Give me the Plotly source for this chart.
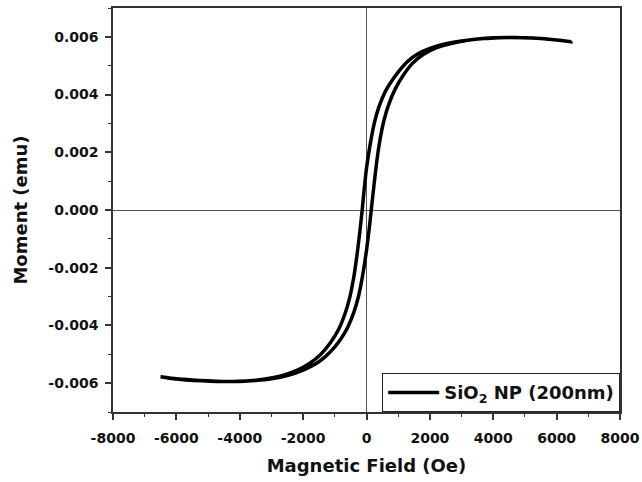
import plotly.graph_objects as go

# Descending-field branch (from +H to -H)
desc_field = [6450, 6000, 5500, 5000, 4500, 4000, 3500, 3000, 2500, 2000, 1600, 1300, 1000, 800, 600, 400, 250,
              120, 0, -70, -136, -215, -305, -410, -540, -690, -890, -1140, -1440, -1800, -2200, -2700, -3200,
              -3700, -4200, -4700, -5200, -5700, -6100, -6500]
desc_moment = [0.00583, 0.00589, 0.00594, 0.00597, 0.00598, 0.00597, 0.00593, 0.00586, 0.00576, 0.00560, 0.00540,
               0.00515, 0.00478, 0.00448, 0.00412, 0.00360, 0.00303, 0.00230, 0.00145, 0.00075, 0.00000,
               -0.00080, -0.00160, -0.00238, -0.00308, -0.00363, -0.00416, -0.00460, -0.00500, -0.00532,
               -0.00556, -0.00575, -0.00586, -0.00592, -0.00594, -0.00594, -0.00592, -0.00589, -0.00585,
               -0.00578]

# Ascending-field branch (from -H to +H)
asc_field = [-6500, -6000, -5500, -5000, -4500, -4000, -3500, -3000, -2500, -2000, -1600, -1300, -1000, -800, -600,
             -400, -250, -120, 0, 80, 150, 230, 320, 420, 550, 700, 900, 1150, 1450, 1800, 2200, 2700, 3200, 3700,
             4200, 4700, 5200, 5700, 6100, 6450]
asc_moment = [-0.00578, -0.00585, -0.00589, -0.00592, -0.00594, -0.00594, -0.00591, -0.00585, -0.00574, -0.00555,
              -0.00533, -0.00508, -0.00474, -0.00445, -0.00408, -0.00355, -0.00298, -0.00225, -0.00140, -0.00070,
              0.00000, 0.00080, 0.00165, 0.00240, 0.00310, 0.00365, 0.00418, 0.00465, 0.00508, 0.00540, 0.00562,
              0.00578, 0.00588, 0.00594, 0.00597, 0.00598, 0.00596, 0.00593, 0.00588, 0.00583]

x_tickvals = [-8000, -6000, -4000, -2000, 0, 2000, 4000, 6000, 8000]
x_ticktext = ["-8000", "-6000", "-4000", "-2000", "0", "2000", "4000", "6000", "8000"]
y_tickvals = [-0.006, -0.004, -0.002, 0.0, 0.002, 0.004, 0.006]
y_ticktext = ["-0.006", "-0.004", "-0.002", "0.000", "0.002", "0.004", "0.006"]

series_name = "SiO<sub>2</sub> NP (200nm)"

FONT = "DejaVu Sans"

fig = go.Figure()
fig.add_trace(go.Scatter(
    x=desc_field + asc_field,
    y=desc_moment + asc_moment,
    mode="lines",
    line=dict(color="black", width=3.5, shape="spline", smoothing=0.5),
    name=series_name,
))

axis_common = dict(
    showline=True, linecolor="#333", linewidth=1.5, mirror=True,
    ticks="outside", ticklen=6, tickwidth=1.5, tickcolor="#333",
    showgrid=False, automargin=False,
    zeroline=True, zerolinecolor="#555", zerolinewidth=1,
    tickfont=dict(family=FONT, size=14, color="#111"),
)

fig.update_xaxes(
    range=[-8000, 8000], tickvals=x_tickvals, ticktext=x_ticktext,
    ticklabelstandoff=6,
    minor=dict(dtick=1000, tick0=0, ticks="outside", ticklen=3, tickwidth=1.2, tickcolor="#333"),
    title=dict(text="<b>Magnetic Field (Oe)</b>", font=dict(family=FONT, size=18, color="#111"), standoff=15),
    **axis_common,
)
fig.update_yaxes(
    range=[-0.007, 0.007], tickvals=y_tickvals, ticktext=y_ticktext,
    ticklabelstandoff=4,
    minor=dict(dtick=0.001, tick0=0, ticks="outside", ticklen=3, tickwidth=1.2, tickcolor="#333"),
    title=dict(text="<b>Moment (emu)</b>", font=dict(family=FONT, size=18, color="#111"), standoff=16),
    **axis_common,
)

fig.update_layout(
    width=642, height=482,
    margin=dict(l=113, r=22, t=8, b=70),
    paper_bgcolor="white", plot_bgcolor="white",
    font=dict(family=FONT, size=14, color="#111", weight="bold"),
    showlegend=True,
    legend=dict(
        x=1, y=0, xanchor="right", yanchor="bottom",
        bgcolor="white", bordercolor="#222", borderwidth=1.2,
        itemwidth=51,
        font=dict(family=FONT, size=18, color="#111", weight="bold"),
    ),
)

fig.write_html(
    "out.html",
    config={"displayModeBar": False},
    post_script="document.body.style.margin='0';document.body.style.overflow='hidden';",
)
